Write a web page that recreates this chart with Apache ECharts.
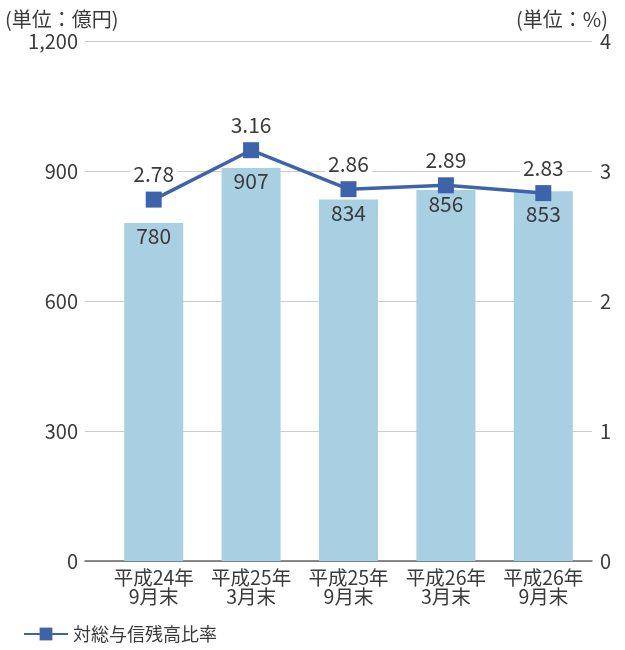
<!DOCTYPE html>
<html>
<head>
<meta charset="utf-8">
<script src="https://cdn.jsdelivr.net/npm/echarts@6/dist/echarts.min.js"></script>
<style>
  html, body { margin: 0; padding: 0; background: #fff; }
  #main { width: 625px; height: 650px; }
</style>
</head>
<body>
<div id="main"></div>
<script>
// data
var categories = ["平成24年\n9月末", "平成25年\n3月末", "平成25年\n9月末", "平成26年\n3月末", "平成26年\n9月末"];
var balance = [780, 907, 834, 856, 853];       // 億円
var ratio = [2.78, 3.16, 2.86, 2.89, 2.83];     // %
var leftTicks = [0, 1200, 300];   // min, max, interval
var rightTicks = [0, 4, 1];

var font = "'Noto Sans CJK JP', 'Noto Sans', sans-serif";
var textColor = "#3a3a3a";

var chart = echarts.init(document.getElementById("main"));
chart.setOption({
  textStyle: { fontFamily: font },
  title: [
    { text: "(単位：億円)", left: 0, top: 4, textStyle: { fontSize: 20, fontWeight: "normal", color: textColor, fontFamily: font } },
    { text: "(単位：%)", right: 12, top: 4, textStyle: { fontSize: 20, fontWeight: "normal", color: textColor, fontFamily: font } }
  ],
  legend: {
    data: ["対総与信残高比率"],
    left: 18,
    bottom: 2,
    itemWidth: 44,
    itemHeight: 16,
    itemGap: 8,
    textStyle: { fontSize: 18, color: textColor, fontFamily: font }
  },
  grid: [
    // axes / gridlines
    { left: 85, right: 33, top: 41, bottom: 89 },
    // marks
    { left: 105, right: 33, top: 41, bottom: 89 }
  ],
  xAxis: [
    {
      type: "value", gridIndex: 0, min: 0, max: 1,
      axisLine: { show: true, lineStyle: { color: "#666", width: 1.5 } },
      axisTick: { show: false }, axisLabel: { show: false }, splitLine: { show: false }
    },
    {
      type: "category", gridIndex: 1, data: categories,
      axisLine: { show: false }, axisTick: { show: false },
      axisLabel: { interval: 0, fontSize: 19.5, color: textColor, lineHeight: 19, margin: 7, fontFamily: font }
    }
  ],
  yAxis: [
    {
      type: "value", gridIndex: 0, min: leftTicks[0], max: leftTicks[1], interval: leftTicks[2],
      axisLine: { show: false }, axisTick: { show: false },
      axisLabel: {
        fontSize: 20, color: textColor, margin: 7, fontFamily: font,
        formatter: function (v) { return v.toLocaleString("en-US"); }
      },
      splitLine: { lineStyle: { color: "#ccc", width: 1 } }
    },
    {
      type: "value", gridIndex: 0, min: rightTicks[0], max: rightTicks[1], interval: rightTicks[2],
      axisLine: { show: false }, axisTick: { show: false },
      axisLabel: { fontSize: 20, color: textColor, margin: 8, fontFamily: font },
      splitLine: { show: false }
    },
    { type: "value", gridIndex: 1, min: leftTicks[0], max: leftTicks[1], show: false },
    { type: "value", gridIndex: 1, min: rightTicks[0], max: rightTicks[1], show: false }
  ],
  series: [
    {
      name: "与信残高",
      type: "bar",
      xAxisIndex: 1, yAxisIndex: 2,
      // the last label is pushed down below the line marker
      data: balance.map(function (v, i) {
        return i === balance.length - 1 ? { value: v, label: { offset: [0, 9] } } : v;
      }),
      barWidth: 59,
      itemStyle: { color: "#a9cfe2" },
      label: {
        show: true, position: "insideTop", distance: 3,
        fontSize: 21, color: textColor, fontFamily: font
      },
      z: 2
    },
    {
      name: "対総与信残高比率",
      type: "line",
      xAxisIndex: 1, yAxisIndex: 3,
      data: ratio,
      symbol: "rect",
      symbolSize: 16,
      lineStyle: { color: "#3d63aa", width: 3.5 },
      itemStyle: { color: "#3d63aa" },
      label: {
        show: true, position: "top", distance: 7,
        fontSize: 21, color: textColor, fontFamily: font,
        backgroundColor: "#fff", padding: [0, 3],
        formatter: function (p) { return p.value.toFixed(2); }
      },
      z: 3
    }
  ]
});
</script>
</body>
</html>
